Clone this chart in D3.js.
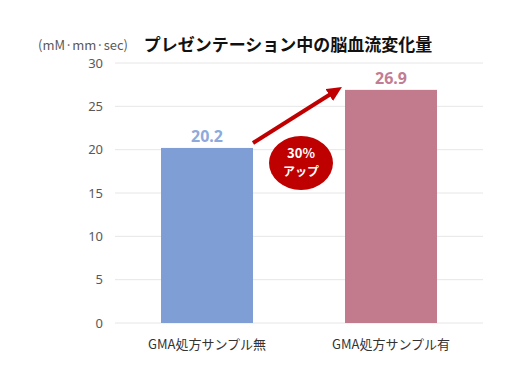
<!DOCTYPE html>
<html><head><meta charset="utf-8">
<script src="https://cdn.jsdelivr.net/npm/d3@7"></script>
<style>body{margin:0;background:#fff}svg{display:block}text{font-family:"Noto Sans CJK JP","Noto Sans",sans-serif}</style>
</head><body><svg id="c" width="526" height="380"></svg>
<script>
const categories = ["GMA処方サンプル無", "GMA処方サンプル有"];
const values = [20.2, 26.9];
const barColors = ["#7F9ED6", "#C27A8D"];
const labelColors = ["#8EA9DB", "#C27D93"];
const yTicks = [0, 5, 10, 15, 20, 25, 30];
const title = "プレゼンテーション中の脳血流変化量";
const unit = "(mM·mm·sec)";
const badge = ["30%", "アップ"];

const svg = d3.select("#c");
const x = d3.scaleBand().domain(categories).range([115, 483]).paddingInner(0.5).paddingOuter(0.25);
const y = d3.scaleLinear().domain([0, 30]).range([323, 63]);

// gridlines
svg.append("g").selectAll("line").data(yTicks).join("line")
  .attr("x1", 115).attr("x2", 483)
  .attr("y1", d => y(d)).attr("y2", d => y(d))
  .attr("stroke", "#E6E6E6").attr("stroke-width", 1);

// y axis labels
const ya = svg.append("g").attr("transform", "translate(103,0)")
  .call(d3.axisLeft(y).tickValues(yTicks).tickSize(0).tickPadding(0));
ya.select(".domain").remove();
ya.selectAll("text").attr("font-size", 13).attr("fill", "#595959")
  .style("font-family", '"Noto Sans","DejaVu Sans",sans-serif');

// bars
svg.append("g").selectAll("rect").data(values).join("rect")
  .attr("x", (d, i) => x(categories[i]))
  .attr("width", x.bandwidth())
  .attr("y", d => y(d))
  .attr("height", d => y(0) - y(d))
  .attr("fill", (d, i) => barColors[i]);

// value labels
svg.append("g").selectAll("text").data(values).join("text")
  .attr("x", (d, i) => x(categories[i]) + x.bandwidth() / 2)
  .attr("y", d => y(d) - 6)
  .attr("text-anchor", "middle")
  .attr("font-size", 16).attr("font-weight", "bold")
  .attr("fill", (d, i) => labelColors[i])
  .style("font-family", '"Noto Sans","DejaVu Sans",sans-serif')
  .text(d => d.toFixed(1));

// category labels
const xa = svg.append("g").attr("transform", "translate(0,323)")
  .call(d3.axisBottom(x).tickSize(0).tickPadding(17));
xa.select(".domain").remove();
xa.selectAll("text").attr("font-size", 13).attr("fill", "#333333")
  .style("font-family", '"Noto Sans CJK JP",sans-serif');

// title and unit
svg.append("text").attr("x", 288).attr("y", 51).attr("text-anchor", "middle")
  .attr("font-size", 17).attr("font-weight", "bold").attr("fill", "#111").text(title);
svg.append("text").attr("x", 83).attr("y", 50).attr("text-anchor", "middle")
  .attr("font-size", 13).attr("fill", "#595959").text(unit);

// arrow
const defs = svg.append("defs");
defs.append("marker").attr("id", "ah").attr("viewBox", "0 0 15 14")
  .attr("refX", 5).attr("refY", 7).attr("markerWidth", 15).attr("markerHeight", 14)
  .attr("markerUnits", "userSpaceOnUse").attr("orient", "auto")
  .append("path").attr("d", "M0,0 L15,7 L0,14 Z").attr("fill", "#C00000");
svg.append("line").attr("x1", 253).attr("y1", 143).attr("x2", 333.5).attr("y2", 92.3)
  .attr("stroke", "#C00000").attr("stroke-width", 4).attr("marker-end", "url(#ah)");

// badge
svg.append("ellipse").attr("cx", 301).attr("cy", 163).attr("rx", 32).attr("ry", 27)
  .attr("fill", "#BE0000");
svg.append("text").attr("x", 301).attr("y", 158).attr("text-anchor", "middle")
  .attr("font-size", 13).attr("font-weight", "bold").attr("fill", "#fff").text(badge[0]);
svg.append("text").attr("x", 301).attr("y", 176).attr("text-anchor", "middle")
  .attr("font-size", 12).attr("font-weight", "bold").attr("fill", "#fff").text(badge[1]);
</script></body></html>
